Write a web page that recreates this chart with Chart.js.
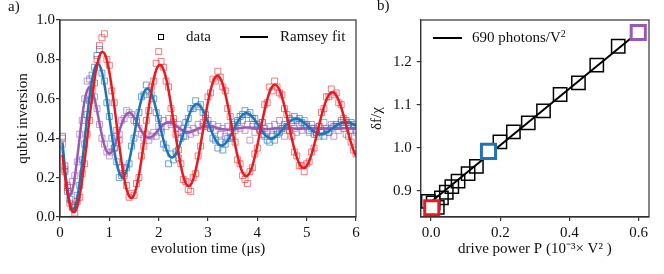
<!DOCTYPE html>
<html>
<head>
<meta charset="utf-8">
<script src="https://cdn.jsdelivr.net/npm/chart.js@4.4.1/dist/chart.umd.min.js"></script>
<style>
    body { margin: 0; background: #fff; }
    #wrap { position: relative; width: 664px; height: 274px; font-family: 'Liberation Serif', serif; color: #111; overflow: hidden; }
    #wrap canvas { position: absolute; top: 0; }
    .txt { position: absolute; font-size: 15px; line-height: 15px; white-space: nowrap; }
    .txt sup { font-size: 10px; vertical-align: 5px; line-height: 0; }
    .swatch-line { position: absolute; height: 0; border-top: 2.5px solid #000; }
    .swatch-box { position: absolute; width: 4px; height: 4px; border: 1px solid #000; }
</style>
</head>
<body>
<div id="wrap">
    <canvas id="ramseyChart" width="364" height="274" style="left:0"></canvas>
    <canvas id="shiftChart" width="300" height="274" style="left:364px"></canvas>

    <div class="txt" style="left:8px; top:-1px;">a)</div>
    <div class="txt" style="left:377px; top:-2px;">b)</div>

    <div class="swatch-box" style="left:158px; top:34px;"></div>
    <div class="txt" style="left:186px; top:29px;">data</div>
    <div class="swatch-line" style="left:240px; top:35.5px; width:28px;"></div>
    <div class="txt" style="left:280px; top:29px;">Ramsey fit</div>

    <div class="swatch-line" style="left:433px; top:37px; width:29px;"></div>
    <div class="txt" style="left:472px; top:29.5px;">690 photons/V<sup>2</sup></div>
</div>

<script>
// panel a) Ramsey oscillations, sampled every 50 ns
const timeUs = [
    0.05, 0.10, 0.15, 0.20, 0.25, 0.30, 0.35, 0.40, 0.45, 0.50,
    0.55, 0.60, 0.65, 0.70, 0.75, 0.80, 0.85, 0.90, 0.95, 1.00,
    1.05, 1.10, 1.15, 1.20, 1.25, 1.30, 1.35, 1.40, 1.45, 1.50,
    1.55, 1.60, 1.65, 1.70, 1.75, 1.80, 1.85, 1.90, 1.95, 2.00,
    2.05, 2.10, 2.15, 2.20, 2.25, 2.30, 2.35, 2.40, 2.45, 2.50,
    2.55, 2.60, 2.65, 2.70, 2.75, 2.80, 2.85, 2.90, 2.95, 3.00,
    3.05, 3.10, 3.15, 3.20, 3.25, 3.30, 3.35, 3.40, 3.45, 3.50,
    3.55, 3.60, 3.65, 3.70, 3.75, 3.80, 3.85, 3.90, 3.95, 4.00,
    4.05, 4.10, 4.15, 4.20, 4.25, 4.30, 4.35, 4.40, 4.45, 4.50,
    4.55, 4.60, 4.65, 4.70, 4.75, 4.80, 4.85, 4.90, 4.95, 5.00,
    5.05, 5.10, 5.15, 5.20, 5.25, 5.30, 5.35, 5.40, 5.45, 5.50,
    5.55, 5.60, 5.65, 5.70, 5.75, 5.80, 5.85, 5.90, 5.95, 6.00
];

const dataRed = [
    .40, .23, .15, .07, .05, .02, .08, .10, .22, .27,
    .42, .49, .64, .68, .80, .87, .91, .93, .80, .77,
    .64, .58, .44, .39, .25, .21, .16, .10, .12, .11,
    .17, .20, .31, .36, .49, .54, .66, .69, .78, .84,
    .79, .76, .69, .66, .55, .50, .42, .30, .27, .19,
    .18, .14, .13, .20, .22, .31, .36, .46, .50, .61,
    .63, .70, .69, .74, .71, .66, .64, .55, .51, .41,
    .38, .29, .27, .21, .19, .17, .23, .25, .32, .35,
    .44, .48, .57, .58, .66, .64, .69, .66, .63, .62,
    .55, .52, .44, .41, .33, .31, .26, .26, .23, .27,
    .28, .33, .35, .43, .46, .53, .55, .61, .61, .65,
    .62, .63, .58, .57, .50, .48, .41, .38, .34, .32
];
const fitRed = [
    .315, .209, .123, .061, .028, .026, .054, .110, .190, .287,
    .394, .504, .608, .699, .770, .818, .838, .831, .796, .736,
    .657, .565, .466, .367, .276, .198, .140, .106, .096, .112,
    .152, .213, .290, .377, .468, .556, .635, .700, .746, .769,
    .770, .747, .704, .643, .569, .488, .405, .327, .259, .206,
    .171, .157, .164, .191, .237, .297, .367, .442, .516, .585,
    .642, .685, .711, .717, .704, .673, .626, .568, .502, .433,
    .367, .308, .260, .226, .209, .209, .227, .260, .307, .363,
    .424, .487, .545, .596, .636, .661, .671, .665, .644, .609,
    .563, .510, .453, .397, .346, .303, .271, .253, .249, .259,
    .283, .319, .363, .413, .465, .515, .559, .595, .620, .632,
    .631, .617, .592, .556, .513, .467, .420, .376, .338, .309
];

const dataBlue = [
    .41, .26, .13, .09, .05, .06, .11, .16, .29, .37,
    .52, .59, .72, .76, .82, .85, .73, .69, .58, .51,
    .40, .35, .28, .20, .21, .22, .25, .27, .36, .40,
    .49, .53, .61, .62, .67, .64, .62, .60, .53, .50,
    .43, .37, .35, .27, .32, .29, .33, .34, .40, .41,
    .48, .50, .55, .55, .59, .56, .57, .53, .52, .47,
    .45, .40, .39, .35, .38, .34, .37, .40, .40, .45,
    .46, .49, .51, .52, .54, .52, .53, .50, .50, .46,
    .45, .42, .41, .39, .38, .41, .39, .42, .43, .45,
    .47, .46, .50, .49, .51, .49, .50, .48, .47, .47,
    .44, .45, .42, .43, .41, .43, .41, .44, .43, .45,
    .46, .47, .46, .49, .47, .49, .47, .48, .46, .44
];
const fitBlue = [
    .379, .247, .141, .070, .039, .050, .098, .178, .280, .394,
    .509, .612, .696, .752, .778, .771, .735, .674, .595, .507,
    .418, .336, .271, .225, .204, .208, .235, .282, .343, .411,
    .481, .544, .596, .632, .650, .648, .628, .592, .545, .492,
    .438, .388, .347, .318, .304, .305, .320, .347, .383, .424,
    .466, .505, .538, .561, .572, .572, .561, .540, .513, .481,
    .448, .417, .392, .374, .364, .364, .372, .388, .409, .434,
    .459, .483, .503, .518, .526, .526, .520, .508, .492, .473,
    .453, .434, .418, .407, .400, .399, .404, .413, .426, .441,
    .456, .471, .483, .492, .497, .498, .495, .488, .478, .467,
    .455, .443, .434, .426, .422, .421, .424, .429, .436, .445,
    .455, .464, .471, .477, .480, .481, .480, .476, .470, .463
];

const dataPurple = [
    .37, .24, .16, .13, .18, .21, .28, .42, .49, .60,
    .69, .70, .67, .61, .55, .47, .40, .37, .33, .31,
    .33, .35, .41, .42, .49, .50, .54, .53, .52, .49,
    .48, .45, .42, .40, .42, .39, .41, .43, .41, .46,
    .45, .49, .46, .50, .47, .48, .45, .47, .43, .45,
    .41, .44, .42, .45, .43, .47, .44, .48, .46, .49,
    .45, .47, .44, .46, .42, .45, .41, .46, .43, .47,
    .44, .48, .45, .49, .44, .47, .39, .46, .43, .47,
    .44, .48, .45, .43, .46, .42, .47, .44, .49, .45,
    .41, .46, .44, .48, .45, .43, .47, .44, .49, .46,
    .43, .47, .45, .42, .46, .44, .48, .45, .43, .47,
    .41, .46, .44, .48, .45, .42, .46, .44, .47, .43
];
const fitPurple = [
    .354, .221, .138, .110, .135, .203, .300, .408, .509, .591,
    .642, .659, .643, .601, .542, .476, .414, .364, .332, .322,
    .331, .357, .394, .434, .472, .503, .522, .529, .523, .507,
    .485, .460, .436, .418, .406, .402, .405, .415, .429, .444,
    .458, .470, .477, .480, .478, .472, .463, .454, .445, .438,
    .433, .432, .433, .437, .442, .448, .453, .458, .460, .461,
    .460, .458, .455, .451, .448, .445, .444, .443, .444, .445,
    .447, .449, .451, .453, .454, .454, .454, .453, .452, .451,
    .449, .448, .447, .447, .447, .448, .449, .450, .451, .452,
    .452, .452, .451, .450, .449, .448, .448, .448, .449, .450,
    .451, .451, .451, .451, .450, .450, .449, .449, .449, .449,
    .450, .450, .450, .451, .451, .451, .450, .450, .450, .449
];

const ticksTime = [0, 1, 2, 3, 4, 5, 6];
const ticksInversion = [0, 0.2, 0.4, 0.6, 0.8, 1.0];

// panel b) frequency shift vs drive power
const powerP = [-0.008, 0.006, 0.018, 0.030, 0.044, 0.060, 0.078, 0.107, 0.131, 0.199, 0.238, 0.281, 0.325, 0.373, 0.426, 0.479, 0.541];
const shiftF = [0.876, 0.872, 0.862, 0.884, 0.897, 0.910, 0.923, 0.940, 0.957, 1.014, 1.037, 1.058, 1.086, 1.124, 1.151, 1.192, 1.236];
const fitP = [-0.012, 0.598];
const fitF = [0.867, 1.268];
const markedP = [0.002, 0.166, 0.599];
const markedF = [0.861, 0.992, 1.268];

const ticksPower = [0, 0.2, 0.4, 0.6];
const ticksShift = [0.9, 1.0, 1.1, 1.2];

const RED = '#e8191f', BLUE = '#1f74b8', PURPLE = '#9b59b6';
const axisColor = '#333';
const tickFont = { family: 'Liberation Serif', size: 15 };
const titleFont = { family: 'Liberation Serif', size: 15 };

const pairs = (xs, ys) => xs.map((x, i) => ({ x: x, y: ys[i] }));

// draws the top and right spines too
const framePlugin = {
    id: 'frame',
    afterDraw(chart) {
        const { ctx, chartArea: a } = chart;
        ctx.save();
        ctx.strokeStyle = axisColor;
        ctx.lineWidth = 1.2;
        ctx.strokeRect(a.left, a.top, a.right - a.left, a.bottom - a.top);
        ctx.restore();
    }
};

function makeAxis(min, max, tickValues, fmt, title, fitSize, tickPad, titlePad, horizontal) {
    return {
        type: 'linear',
        min: min,
        max: max,
        afterBuildTicks: s => { s.ticks = tickValues.map(v => ({ value: v })); },
        afterFit: s => { if (horizontal) s.height = fitSize; else s.width = fitSize; },
        ticks: { color: '#111', font: tickFont, padding: tickPad, autoSkip: false, maxRotation: 0, callback: fmt },
        grid: { drawOnChartArea: false, tickLength: 4, color: axisColor, lineWidth: 1.2 },
        border: { color: axisColor, width: 1.2 },
        title: { display: true, text: title, color: '#111', font: titleFont, padding: titlePad }
    };
}

function scatterSet(data, color, order) {
    return {
        type: 'scatter',
        data: data,
        pointStyle: 'rect',
        pointRadius: 4.2,
        borderWidth: 1,
        borderColor: color,
        backgroundColor: 'rgba(0,0,0,0)',
        order: order
    };
}

function fitSet(data, color, order) {
    return {
        type: 'line',
        data: data,
        borderColor: color,
        borderWidth: 2.5,
        pointRadius: 0,
        tension: 0.3,
        fill: false,
        order: order
    };
}

function initializeRamseyChart() {
    const ctx = document.getElementById('ramseyChart');
    new Chart(ctx, {
        data: {
            datasets: [
                fitSet(pairs(timeUs, fitRed), RED, 0),
                fitSet(pairs(timeUs, fitBlue), BLUE, 1),
                fitSet(pairs(timeUs, fitPurple), PURPLE, 2),
                scatterSet(pairs(timeUs, dataRed), 'rgba(232, 40, 45, 0.6)', 3),
                scatterSet(pairs(timeUs, dataBlue), 'rgba(31, 119, 190, 0.65)', 4),
                scatterSet(pairs(timeUs, dataPurple), 'rgba(155, 89, 182, 0.6)', 5)
            ]
        },
        options: {
            responsive: false,
            animation: false,
            layout: { padding: { left: 0, top: 20, right: 8, bottom: 0 } },
            plugins: { legend: { display: false }, tooltip: { enabled: false } },
            scales: {
                x: makeAxis(0, 6, ticksTime, v => String(v), 'evolution time (μs)', 57, 3, { top: 0, bottom: 16 }, true),
                y: makeAxis(0, 1, ticksInversion, v => v.toFixed(1), 'qubit inversion', 60, 1, { top: 14, bottom: 0 }, false)
            }
        },
        plugins: [framePlugin]
    });
}

function initializeShiftChart() {
    const ctx = document.getElementById('shiftChart');
    new Chart(ctx, {
        data: {
            datasets: [
                {
                    type: 'scatter',
                    data: pairs(markedP, markedF),
                    pointStyle: 'rect',
                    pointRadius: 10,
                    borderWidth: 3,
                    pointBorderColor: [RED, BLUE, PURPLE],
                    pointBackgroundColor: '#fff',
                    order: 0
                },
                {
                    type: 'line',
                    data: pairs(fitP, fitF),
                    borderColor: '#000',
                    borderWidth: 2,
                    pointRadius: 0,
                    order: 1
                },
                {
                    type: 'scatter',
                    data: pairs(powerP, shiftF),
                    pointStyle: 'rect',
                    pointRadius: 9.4,
                    borderWidth: 1.5,
                    borderColor: '#000',
                    backgroundColor: 'rgba(0,0,0,0)',
                    order: 2
                }
            ]
        },
        options: {
            responsive: false,
            animation: false,
            layout: { padding: { left: 0, top: 20, right: 15, bottom: 0 } },
            plugins: { legend: { display: false }, tooltip: { enabled: false } },
            scales: {
                x: makeAxis(-0.03, 0.63, ticksPower, v => v.toFixed(1), 'drive power P (10⁻³× V² )', 57, 3, { top: 0, bottom: 16 }, true),
                y: makeAxis(0.8395, 1.297, ticksShift, v => v.toFixed(1), 'δf/χ', 56.7, 5, { top: 4, bottom: 0 }, false)
            }
        },
        plugins: [framePlugin]
    });
}

initializeRamseyChart();
initializeShiftChart();
</script>
</body>
</html>
